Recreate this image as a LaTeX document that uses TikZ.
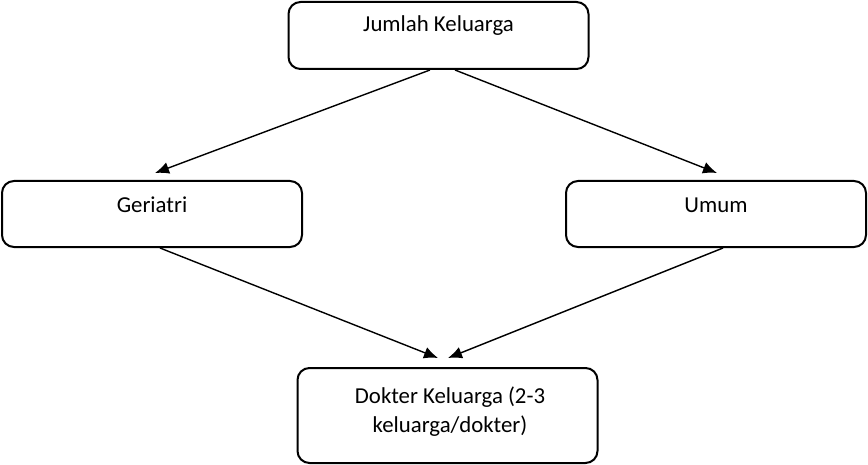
\documentclass[tikz,border=0pt]{standalone}
\usepackage{fontspec}
\setmainfont{Carlito}
\usetikzlibrary{arrows.meta}
\tikzset{
  kotak/.style={draw, line width=1pt, rounded corners=6pt, minimum width=150pt, inner sep=0pt},
  panah/.style={-{Latex[length=7pt,width=6pt]}, line width=0.7pt},
  teks/.style={font=\fontsize{11.4pt}{14.5pt}\selectfont, anchor=base, align=center, inner sep=0pt}
}
\begin{document}
\begin{tikzpicture}[x=0.5pt, y=-0.5pt]
\useasboundingbox (0,0) rectangle (868,465);

\node[kotak, minimum height=33.5pt] (jumlah) at (438.5, 35.5) {};
\node[teks] (jumlahteks) at (438.5, 32) {Jumlah Keluarga};

\node[kotak, minimum height=33pt] (geriatri) at (152, 214) {};
\node[teks] (geriatriteks) at (152, 213) {Geriatri};

\node[kotak, minimum height=33pt] (umum) at (716, 214) {};
\node[teks] (umumteks) at (716, 213) {Umum};

\node[kotak, minimum height=47.5pt] (dokter) at (447.5, 415.5) {};
\node[teks] (dokterteks) at (450, 432) {Dokter Keluarga (2-3\\keluarga/dokter)};

\coordinate (g1) at (155, 173);
\coordinate (u1) at (717, 173);
\coordinate (d1) at (438, 358);
\coordinate (d2) at (448, 358);

\draw[panah] ([xshift=-4.25pt]jumlah.south) -- (g1);
\draw[panah] ([xshift=8.25pt]jumlah.south) -- (u1);
\draw[panah] ([xshift=4pt]geriatri.south) -- (d1);
\draw[panah] ([xshift=3.5pt]umum.south) -- (d2);

\end{tikzpicture}
\end{document}
